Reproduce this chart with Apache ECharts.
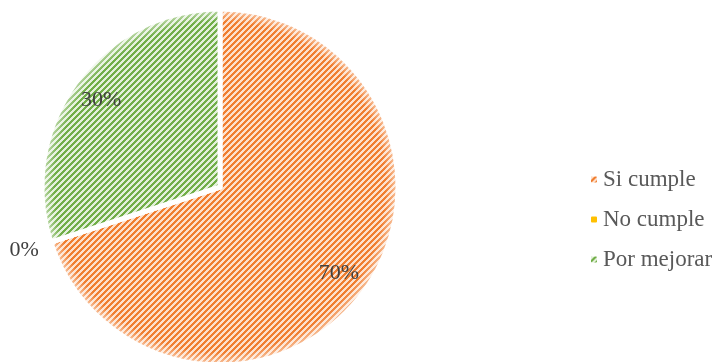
<!DOCTYPE html>
<html>
<head>
<meta charset="utf-8">
<script src="https://cdn.jsdelivr.net/npm/echarts@6/dist/echarts.min.js"></script>
<style>
  html, body { margin: 0; padding: 0; background: #fff; }
  #chart { width: 721px; height: 362px; }
</style>
</head>
<body>
<div id="chart"></div>
<script>
// datos del gráfico
const categories = ['Si cumple', 'No cumple', 'Por mejorar'];
const values = [70, 0, 30];

const CX = 220, CY = 187, R = 178;

// trama diagonal tipo Excel
function makeHatch(bg, fg) {
  const c = document.createElement('canvas');
  c.width = 6; c.height = 6;
  const ctx = c.getContext('2d');
  ctx.fillStyle = bg;
  ctx.fillRect(0, 0, 6, 6);
  ctx.fillStyle = fg;
  for (let i = 0; i < 6; i++) {
    ctx.fillRect(i, 5 - i, 1, 1);
    ctx.fillRect((i + 1) % 6, 5 - i, 1, 1);
    ctx.fillRect((i + 2) % 6, 5 - i, 1, 1);
  }
  return { image: c, repeat: 'repeat' };
}

const fills = [
  makeHatch('#fde0cc', '#f07e30'),
  '#ffc000',
  makeHatch('#e3f0da', '#71ae48')
];

const chart = echarts.init(document.getElementById('chart'));

chart.setOption({
  animation: false,
  legend: {
    orient: 'vertical',
    left: 584,
    top: 163,
    itemWidth: 8,
    itemHeight: 8,
    itemGap: 17,
    data: categories,
    textStyle: {
      fontFamily: 'Liberation Serif',
      fontSize: 23,
      lineHeight: 23,
      color: '#595959'
    }
  },
  series: [
    {
      type: 'pie',
      center: [CX, CY],
      radius: R,
      startAngle: 90,
      clockwise: true,
      percentPrecision: 0,
      itemStyle: { borderColor: '#fff', borderWidth: 5 },
      label: {
        show: true,
        position: 'inside',
        formatter: '{d}%',
        fontFamily: 'Liberation Serif',
        fontSize: 22,
        color: '#404040'
      },
      labelLine: { show: false },
      emphasis: { disabled: true },
      labelLayout: function (p) {
        const r = p.labelRect;
        const lx = r.x + r.width / 2, ly = r.y + r.height / 2;
        const vx = lx - CX, vy = ly - CY;
        const len = Math.sqrt(vx * vx + vy * vy) || 1;
        const dist = p.dataIndex === 1 ? 206 : 147;
        return { x: CX + vx / len * dist, y: CY + vy / len * dist };
      },
      data: categories.map((name, i) => ({
        name: name,
        value: values[i],
        itemStyle: { color: fills[i] }
      }))
    },
    {
      // borde suave
      type: 'pie',
      silent: true,
      center: [CX, CY],
      radius: R - 2,
      z: 3,
      label: { show: false },
      labelLine: { show: false },
      itemStyle: {
        color: {
          type: 'radial', x: CX, y: CY, r: R - 2, global: true,
          colorStops: [
            { offset: 0, color: 'rgba(255,255,255,0)' },
            { offset: 0.94, color: 'rgba(255,255,255,0)' },
            { offset: 1, color: 'rgba(255,255,255,0.5)' }
          ]
        }
      },
      data: [{ value: 1, name: '' }]
    }
  ]
});
</script>
</body>
</html>
